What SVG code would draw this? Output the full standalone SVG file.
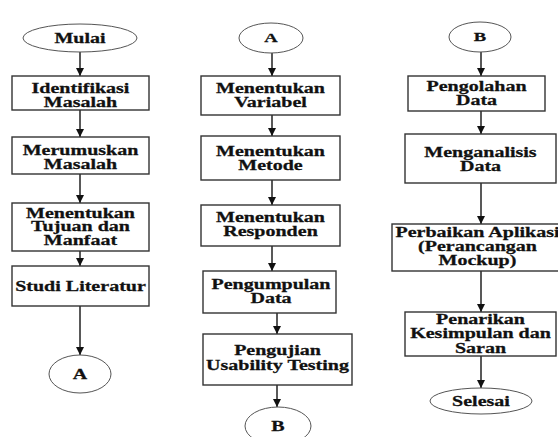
<svg xmlns="http://www.w3.org/2000/svg" width="558" height="437" viewBox="0 0 558 437">
<style>
.box{fill:#fff;stroke:#333;stroke-width:1.4}
.term{fill:#fff;stroke:#555;stroke-width:1}
text{font-family:'Liberation Serif','Times New Roman',serif;font-weight:bold;font-size:14px;text-anchor:middle;fill:#111;stroke:#111;stroke-width:0.25}
.s{font-size:13px}
.c{stroke:#222;stroke-width:1.5;fill:none;marker-end:url(#ah)}
</style>
<defs>
<marker id="ah" markerUnits="userSpaceOnUse" markerWidth="9" markerHeight="8" refX="8" refY="4" orient="auto">
<path d="M0,0 L8,4 L0,8 z" fill="#111"/>
</marker>
</defs>
<rect width="558" height="437" fill="#fff"/>
<g id="connectors">
<line class="c" x1="80" y1="52" x2="80" y2="76"/>
<line class="c" x1="80" y1="110" x2="80" y2="137"/>
<line class="c" x1="80" y1="174" x2="80" y2="203"/>
<line class="c" x1="80" y1="251" x2="80" y2="266"/>
<line class="c" x1="80" y1="306" x2="80" y2="355"/>
<line class="c" x1="272" y1="53" x2="272" y2="76"/>
<line class="c" x1="272" y1="115" x2="272" y2="136"/>
<line class="c" x1="272" y1="180" x2="272" y2="205"/>
<line class="c" x1="272" y1="246" x2="272" y2="271"/>
<line class="c" x1="277" y1="313" x2="277" y2="334"/>
<line class="c" x1="277" y1="385" x2="277" y2="407"/>
<line class="c" x1="481" y1="52" x2="481" y2="76"/>
<line class="c" x1="481" y1="111" x2="481" y2="134"/>
<line class="c" x1="481" y1="183" x2="481" y2="224"/>
<line class="c" x1="481" y1="271" x2="481" y2="312"/>
<line class="c" x1="481" y1="356" x2="481" y2="388"/>
</g>
<g id="mulai"><ellipse class="term" cx="80" cy="38" rx="57" ry="14"/><text transform="translate(80,43) scale(1.43,1)">Mulai</text></g>
<g id="identifikasi"><rect class="box" x="12" y="76" width="137" height="34"/><text transform="translate(80.5,93) scale(1.43,1)"><tspan x="0">Identifikasi</tspan><tspan x="0" dy="14">Masalah</tspan></text></g>
<g id="merumuskan"><rect class="box" x="12" y="137" width="137" height="37"/><text transform="translate(80.5,155) scale(1.43,1)"><tspan x="0">Merumuskan</tspan><tspan x="0" dy="14">Masalah</tspan></text></g>
<g id="tujuan"><rect class="box" x="12" y="203" width="137" height="48"/><text transform="translate(80.5,217.5) scale(1.43,1)"><tspan x="0">Menentukan</tspan><tspan x="0" dy="14">Tujuan dan</tspan><tspan x="0" dy="14">Manfaat</tspan></text></g>
<g id="studi"><rect class="box" x="12" y="266" width="137" height="40"/><text transform="translate(80.5,291) scale(1.43,1)">Studi Literatur</text></g>
<g id="a1"><ellipse class="term" cx="80" cy="374" rx="31" ry="19"/><text transform="translate(80,379) scale(1.43,1)">A</text></g>
<g id="a2"><ellipse class="term" cx="271" cy="38" rx="32" ry="15"/><text class="s" transform="translate(271,42) scale(1.43,1)">A</text></g>
<g id="variabel"><rect class="box" x="201" y="76" width="139" height="39"/><text transform="translate(270.5,93) scale(1.43,1)"><tspan x="0">Menentukan</tspan><tspan x="0" dy="14">Variabel</tspan></text></g>
<g id="metode"><rect class="box" x="201" y="136" width="139" height="44"/><text transform="translate(270.5,156) scale(1.43,1)"><tspan x="0">Menentukan</tspan><tspan x="0" dy="14">Metode</tspan></text></g>
<g id="responden"><rect class="box" x="201" y="205" width="139" height="41"/><text transform="translate(270.5,222) scale(1.43,1)"><tspan x="0">Menentukan</tspan><tspan x="0" dy="14.5">Responden</tspan></text></g>
<g id="pengumpulan"><rect class="box" x="203" y="271" width="133" height="42"/><text transform="translate(271,289) scale(1.43,1)"><tspan x="0">Pengumpulan</tspan><tspan x="0" dy="14.5">Data</tspan></text></g>
<g id="pengujian"><rect class="box" x="203" y="334" width="149" height="51"/><text transform="translate(277.5,355) scale(1.43,1)"><tspan x="0">Pengujian</tspan><tspan x="0" dy="15">Usability Testing</tspan></text></g>
<g id="b1"><ellipse class="term" cx="278" cy="426" rx="33" ry="19"/><text transform="translate(278,431) scale(1.43,1)">B</text></g>
<g id="b2"><ellipse class="term" cx="480" cy="37" rx="31" ry="15"/><text class="s" transform="translate(480,41) scale(1.43,1)">B</text></g>
<g id="pengolahan"><rect class="box" x="408" y="76" width="137" height="35"/><text transform="translate(476.5,91) scale(1.43,1)"><tspan x="0">Pengolahan</tspan><tspan x="0" dy="14">Data</tspan></text></g>
<g id="menganalisis"><rect class="box" x="405" y="134" width="151" height="49"/><text transform="translate(480.5,157) scale(1.43,1)"><tspan x="0">Menganalisis</tspan><tspan x="0" dy="14">Data</tspan></text></g>
<g id="perbaikan"><rect class="box" x="392" y="224" width="171" height="47"/><text transform="translate(477.5,237) scale(1.43,1)"><tspan x="0">Perbaikan Aplikasi</tspan><tspan x="0" dy="14">(Perancangan</tspan><tspan x="0" dy="14">Mockup)</tspan></text></g>
<g id="penarikan"><rect class="box" x="405" y="312" width="151" height="44"/><text transform="translate(480.5,324) scale(1.43,1)"><tspan x="0">Penarikan</tspan><tspan x="0" dy="14.5">Kesimpulan dan</tspan><tspan x="0" dy="14.5">Saran</tspan></text></g>
<g id="selesai"><ellipse class="term" cx="481" cy="401" rx="51" ry="13"/><text transform="translate(481,406) scale(1.43,1)">Selesai</text></g>
</svg>
